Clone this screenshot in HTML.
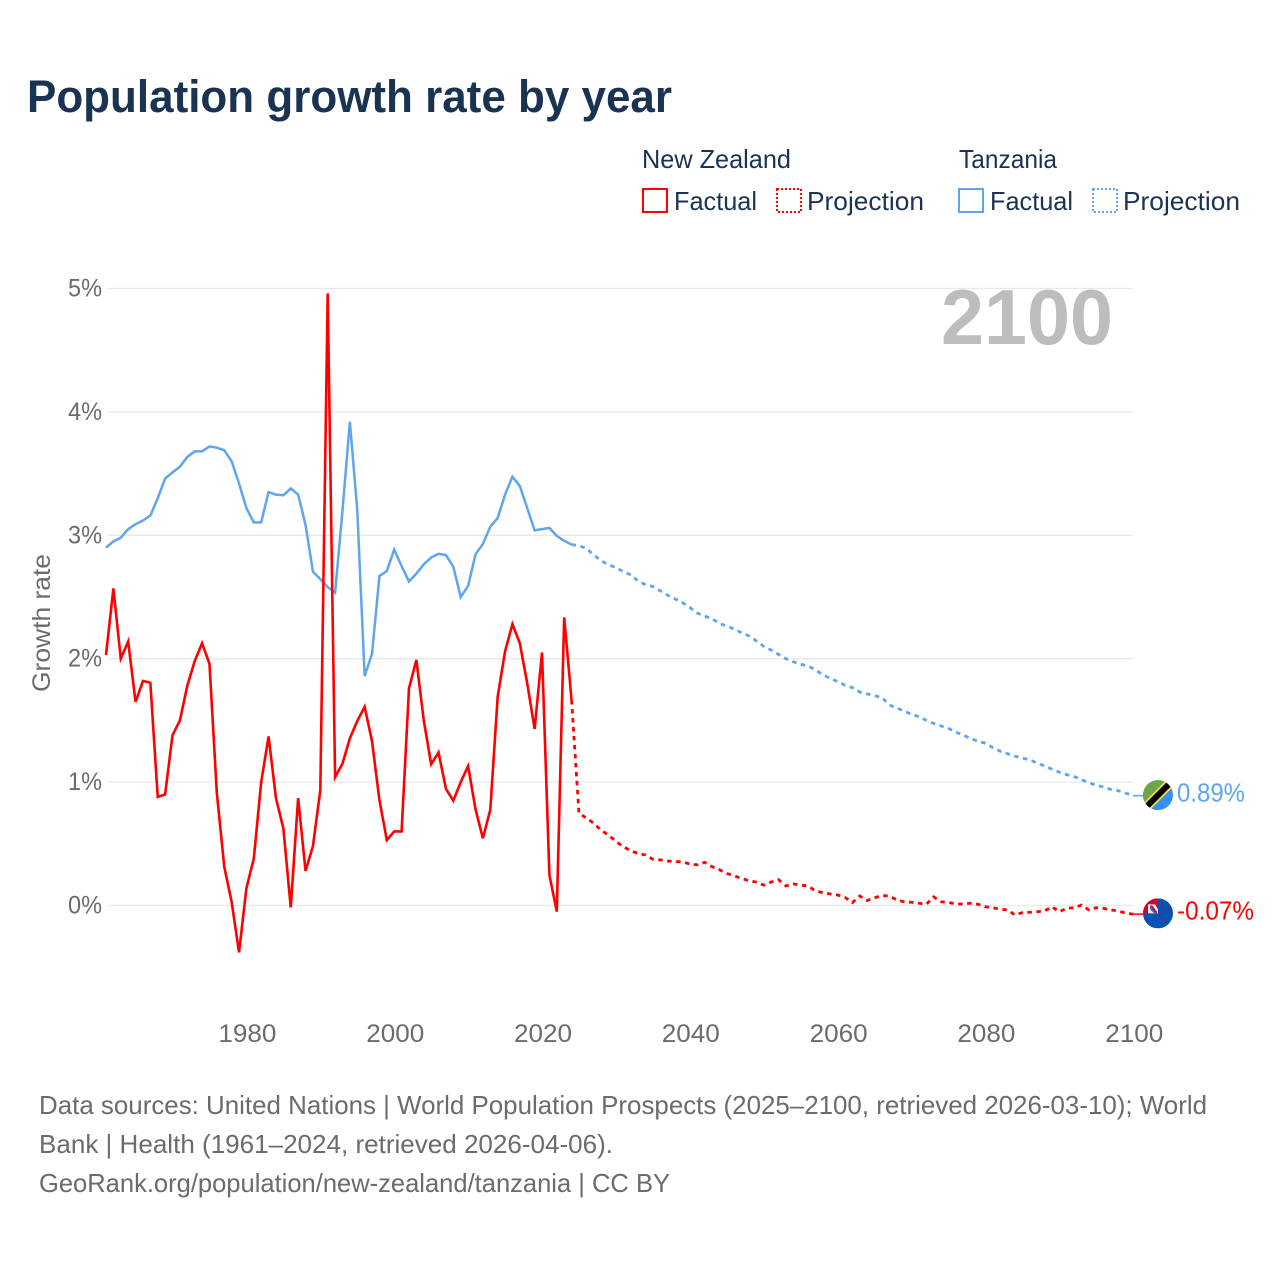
<!DOCTYPE html>
<html lang="en">
<head>
<meta charset="utf-8">
<title>Population growth rate by year</title>
<style>
  html, body { margin: 0; padding: 0; background: #ffffff; }
  svg { display: block; font-family: "Liberation Sans", sans-serif; }
</style>
</head>
<body>
<svg id="chart" xmlns="http://www.w3.org/2000/svg" width="1280" height="1280" viewBox="0 0 1280 1280">
  <rect x="0" y="0" width="1280" height="1280" fill="#ffffff"/>
  <text x="27" y="112" font-size="45" font-weight="700" fill="#1a3352" textLength="645" lengthAdjust="spacingAndGlyphs">Population growth rate by year</text>

  <g font-size="26" fill="#1a3352">
    <text x="642" y="168" textLength="149" lengthAdjust="spacingAndGlyphs">New Zealand</text>
    <text x="959" y="168" textLength="98" lengthAdjust="spacingAndGlyphs">Tanzania</text>
    <rect x="643" y="189" width="24" height="23" fill="none" stroke="#ff0000" stroke-width="2"/>
    <text x="674" y="210" textLength="83" lengthAdjust="spacingAndGlyphs">Factual</text>
    <rect x="777" y="189" width="24" height="23" fill="none" stroke="#ff0000" stroke-width="2" stroke-dasharray="2 2"/>
    <text x="807" y="210" textLength="117" lengthAdjust="spacingAndGlyphs">Projection</text>
    <rect x="959" y="189" width="24" height="23" fill="none" stroke="#5ea5ee" stroke-width="2"/>
    <text x="990" y="210" textLength="83" lengthAdjust="spacingAndGlyphs">Factual</text>
    <rect x="1093" y="189" width="24" height="23" fill="none" stroke="#5ea5ee" stroke-width="2" stroke-dasharray="2 2"/>
    <text x="1123" y="210" textLength="117" lengthAdjust="spacingAndGlyphs">Projection</text>
  </g>

  <g id="grid"></g>
  <g id="yticks"></g>
  <g id="xticks"></g>
  <text transform="translate(50,623) rotate(-90)" text-anchor="middle" font-size="25" fill="#6b6b6b" textLength="138" lengthAdjust="spacingAndGlyphs">Growth rate</text>
  <text x="941" y="344" font-size="78" font-weight="700" fill="#bdbdbd" textLength="172" lengthAdjust="spacingAndGlyphs">2100</text>
  <g id="series"></g>

  <g id="flag-tz">
    <clipPath id="clip-tz"><circle cx="0" cy="0" r="15"/></clipPath>
    <g clip-path="url(#clip-tz)">
      <rect x="-15" y="-15" width="30" height="30" fill="#3a8ff2"/>
      <polygon points="-15,-15 15,-15 -15,15" fill="#6da544"/>
      <line x1="-17" y1="17" x2="17" y2="-17" stroke="#ffda44" stroke-width="9.5"/>
      <line x1="-17" y1="17" x2="17" y2="-17" stroke="#000000" stroke-width="6"/>
    </g>
  </g>
  <g id="flag-nz">
    <clipPath id="clip-nz"><circle cx="0" cy="0" r="15"/></clipPath>
    <g clip-path="url(#clip-nz)">
      <rect x="-15" y="-15" width="30" height="30" fill="#0052b4"/>
      <rect x="-15" y="-15" width="15" height="15" fill="#d80027"/>
      <polygon points="-10,-9 -3,-9 0,-4 0,0 -10,0" fill="#f0f0f0"/>
      <polygon points="-8,-7 -5,-7 -1,-2 -1,0 -4,0 -8,-4" fill="#3f6fc0"/>
      <polygon points="-8,-8 -6,-8 -1,-1 -3,-1" fill="#d80027"/>
      <circle cx="4" cy="-6" r="1.1" fill="#d80027"/>
      <circle cx="10" cy="-2" r="1.1" fill="#d80027"/>
      <circle cx="1" cy="0" r="1.1" fill="#d80027"/>
      <circle cx="7" cy="7" r="1.1" fill="#d80027"/>
    </g>
  </g>
  <text id="label-tz" x="1177" font-size="26" fill="#5ea5ee" textLength="68" lengthAdjust="spacingAndGlyphs"></text>
  <text id="label-nz" x="1177" font-size="26" fill="#ff0000" textLength="77" lengthAdjust="spacingAndGlyphs"></text>

  <g font-size="26" fill="#6b6b6b">
    <text x="39" y="1114" textLength="1168" lengthAdjust="spacingAndGlyphs">Data sources: United Nations | World Population Prospects (2025–2100, retrieved 2026-03-10); World</text>
    <text x="39" y="1153" textLength="574" lengthAdjust="spacingAndGlyphs">Bank | Health (1961–2024, retrieved 2026-04-06).</text>
    <text x="39" y="1192" textLength="631" lengthAdjust="spacingAndGlyphs">GeoRank.org/population/new-zealand/tanzania | CC BY</text>
  </g>
</svg>

<script>
var yTickValues = [0, 1, 2, 3, 4, 5];
var xTickYears = [1980, 2000, 2020, 2040, 2060, 2080, 2100];
var factualStartYear = 1961;
var projectionStartYear = 2024;

var nzFactual = [
  2.03, 2.57, 2.00, 2.14, 1.65, 1.82, 1.805, 0.88, 0.90, 1.38,
  1.50, 1.78, 1.98, 2.125, 1.96, 0.91, 0.315, 0.03, -0.38, 0.14,
  0.38, 1.00, 1.37, 0.87, 0.625, -0.015, 0.87, 0.28, 0.48, 0.935,
  4.96, 1.04, 1.15, 1.355, 1.495, 1.61, 1.33, 0.855, 0.53, 0.60,
  0.60, 1.76, 1.99, 1.50, 1.145, 1.24, 0.945, 0.85, 1.00, 1.13,
  0.78, 0.545, 0.775, 1.69, 2.06, 2.28, 2.125, 1.80, 1.43, 2.05,
  0.247, -0.05, 2.335, 1.665
];
var nzProjection = [
  1.665, 0.747, 0.71, 0.665, 0.61, 0.57, 0.52, 0.475, 0.445, 0.42,
  0.41, 0.375, 0.37, 0.36, 0.355, 0.355, 0.335, 0.33, 0.35, 0.315,
  0.29, 0.26, 0.24, 0.22, 0.20, 0.19, 0.165, 0.19, 0.21, 0.158,
  0.175, 0.165, 0.158, 0.118, 0.104, 0.093, 0.085, 0.066, 0.023, 0.077,
  0.04, 0.063, 0.08, 0.077, 0.045, 0.03, 0.026, 0.018, 0.01, 0.07,
  0.03, 0.025, 0.012, 0.012, 0.018, 0.01, -0.01, -0.018, -0.03, -0.036,
  -0.077, -0.058, -0.055, -0.05, -0.045, -0.01, -0.05, -0.023, -0.018, 0.004,
  -0.036, -0.018, -0.023, -0.036, -0.045, -0.063, -0.07
];
var tzFactual = [
  2.90, 2.95, 2.98, 3.05, 3.09, 3.12, 3.16, 3.30, 3.46, 3.51,
  3.555, 3.635, 3.68, 3.68, 3.72, 3.71, 3.69, 3.60, 3.42, 3.22,
  3.105, 3.105, 3.35, 3.33, 3.325, 3.38, 3.33, 3.085, 2.705, 2.645,
  2.58, 2.535, 3.20, 3.92, 3.205, 1.86, 2.04, 2.67, 2.71, 2.885,
  2.75, 2.625, 2.69, 2.765, 2.82, 2.85, 2.84, 2.745, 2.50, 2.59,
  2.845, 2.93, 3.07, 3.14, 3.33, 3.475, 3.40, 3.22, 3.04, 3.05,
  3.06, 2.995, 2.955, 2.925
];
var tzProjection = [
  2.925, 2.915, 2.895, 2.84, 2.795, 2.76, 2.74, 2.705, 2.68, 2.63,
  2.60, 2.585, 2.55, 2.515, 2.485, 2.455, 2.415, 2.37, 2.345, 2.325,
  2.285, 2.265, 2.24, 2.21, 2.185, 2.145, 2.10, 2.07, 2.035, 2.00,
  1.975, 1.955, 1.94, 1.91, 1.87, 1.84, 1.815, 1.785, 1.765, 1.73,
  1.715, 1.70, 1.685, 1.625, 1.60, 1.575, 1.55, 1.53, 1.50, 1.475,
  1.455, 1.435, 1.405, 1.38, 1.355, 1.33, 1.315, 1.28, 1.25, 1.23,
  1.21, 1.195, 1.18, 1.155, 1.13, 1.105, 1.08, 1.06, 1.045, 1.02,
  0.995, 0.975, 0.96, 0.94, 0.93, 0.91, 0.89
];
var endLabels = ['0.89%', '-0.07%'];

var SVG_NS = 'http://www.w3.org/2000/svg';
function xScale(year) { return 106 + (year - 1961) * 7.39; }
function yScale(pct) { return 905.5 - pct * 123.4; }
function make(tag, parentId) {
  var el = document.createElementNS(SVG_NS, tag);
  document.getElementById(parentId).appendChild(el);
  return el;
}
function pathFor(values, startYear) {
  var d = '';
  for (var i = 0; i < values.length; i++) {
    d += (i ? 'L' : 'M') + xScale(startYear + i).toFixed(2) + ' ' + yScale(values[i]).toFixed(2);
  }
  return d;
}

yTickValues.forEach(function (v) {
  var line = make('line', 'grid');
  
  
  line.setAttribute('x1', 108);
  line.setAttribute('x2', 1133);
  line.setAttribute('y1', yScale(v));
  line.setAttribute('y2', yScale(v));
  line.setAttribute('stroke', '#e8e8e8');
  line.setAttribute('stroke-width', '1.3');

  var label = make('text', 'yticks');
  
  
  label.setAttribute('x', 102);
  label.setAttribute('y', yScale(v) + 8);
  label.setAttribute('text-anchor', 'end');
  label.setAttribute('font-size', '25');
  label.setAttribute('fill', '#6b6b6b');
  label.setAttribute('textLength', '34');
  label.setAttribute('lengthAdjust', 'spacingAndGlyphs');
  label.textContent = v + '%';
});

xTickYears.forEach(function (year) {
  var label = make('text', 'xticks');
  
  
  label.setAttribute('x', xScale(year) + 1);
  label.setAttribute('y', 1042);
  label.setAttribute('text-anchor', 'middle');
  label.setAttribute('font-size', '25');
  label.setAttribute('fill', '#6b6b6b');
  label.setAttribute('textLength', '58');
  label.setAttribute('lengthAdjust', 'spacingAndGlyphs');
  label.textContent = year;
});

var tzFactualLine = make('path', 'series');


tzFactualLine.setAttribute('d', pathFor(tzFactual, factualStartYear));
tzFactualLine.setAttribute('fill', 'none');
tzFactualLine.setAttribute('stroke', '#5ea5ee');
tzFactualLine.setAttribute('stroke-width', '2.5');

var tzProjectionLine = make('path', 'series');


tzProjectionLine.setAttribute('d', pathFor(tzProjection, projectionStartYear));
tzProjectionLine.setAttribute('fill', 'none');
tzProjectionLine.setAttribute('stroke', '#5ea5ee');
tzProjectionLine.setAttribute('stroke-width', '2.8');
tzProjectionLine.setAttribute('stroke-dasharray', '4.5 4.5');

var nzFactualLine = make('path', 'series');


nzFactualLine.setAttribute('d', pathFor(nzFactual, factualStartYear));
nzFactualLine.setAttribute('fill', 'none');
nzFactualLine.setAttribute('stroke', '#ff0000');
nzFactualLine.setAttribute('stroke-width', '2.6');

var nzProjectionLine = make('path', 'series');


nzProjectionLine.setAttribute('d', pathFor(nzProjection, projectionStartYear));
nzProjectionLine.setAttribute('fill', 'none');
nzProjectionLine.setAttribute('stroke', '#ff0000');
nzProjectionLine.setAttribute('stroke-width', '2.8');
nzProjectionLine.setAttribute('stroke-dasharray', '4.5 4.5');

var tzEndY = yScale(tzProjection[tzProjection.length - 1]);
var nzEndY = yScale(nzProjection[nzProjection.length - 1]);

var tzLeader = make('line', 'series');


tzLeader.setAttribute('x1', 1133);
tzLeader.setAttribute('x2', 1144);
tzLeader.setAttribute('y1', tzEndY);
tzLeader.setAttribute('y2', tzEndY);
tzLeader.setAttribute('stroke', '#5ea5ee');
tzLeader.setAttribute('stroke-width', '1.5');

var nzLeader = make('line', 'series');


nzLeader.setAttribute('x1', 1133);
nzLeader.setAttribute('x2', 1144);
nzLeader.setAttribute('y1', nzEndY);
nzLeader.setAttribute('y2', nzEndY);
nzLeader.setAttribute('stroke', '#ff0000');
nzLeader.setAttribute('stroke-width', '1.5');

document.getElementById('flag-tz').setAttribute('transform', 'translate(1158,' + (tzEndY - 0.5) + ')');
document.getElementById('flag-nz').setAttribute('transform', 'translate(1158,' + (nzEndY - 0.8) + ')');
var labelTz = document.getElementById('label-tz');
labelTz.setAttribute('y', tzEndY + 6);
labelTz.textContent = endLabels[0];
var labelNz = document.getElementById('label-nz');
labelNz.setAttribute('y', nzEndY + 5.5);
labelNz.textContent = endLabels[1];
</script>
</body>
</html>
